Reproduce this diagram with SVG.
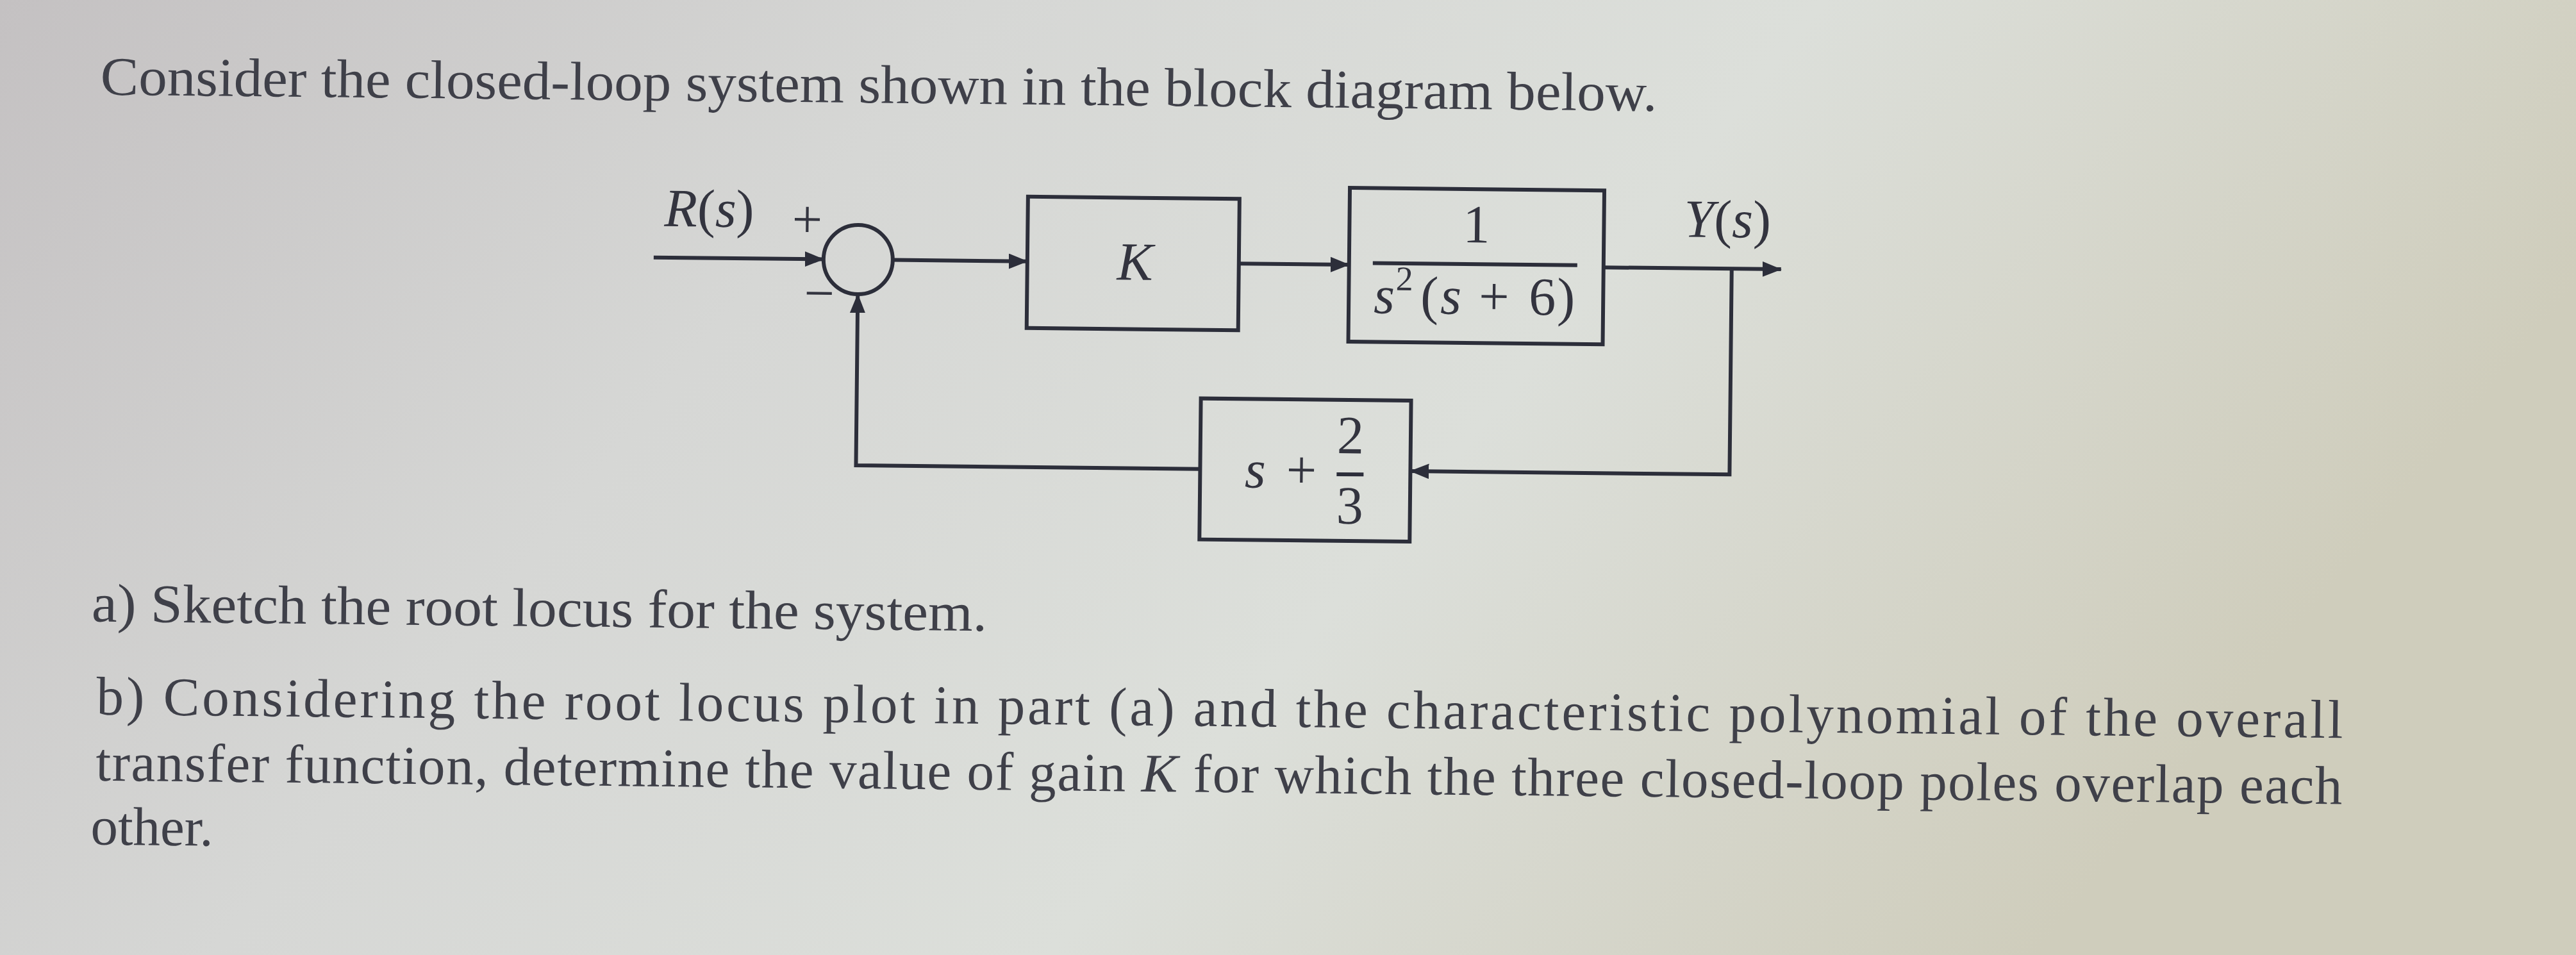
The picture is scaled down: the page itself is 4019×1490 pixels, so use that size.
<svg xmlns="http://www.w3.org/2000/svg" width="4019" height="1490" viewBox="0 0 4019 1490">
  <defs>
    <linearGradient id="bg" x1="0" y1="0" x2="1" y2="0.3">
      <stop offset="0" stop-color="#c4c1c2"/>
      <stop offset="0.35" stop-color="#d6d7d5"/>
      <stop offset="0.65" stop-color="#dcdfda"/>
      <stop offset="1" stop-color="#cfcdbc"/>
    </linearGradient>
    <marker id="ah" markerWidth="30" markerHeight="24" refX="29" refY="12" orient="auto" markerUnits="userSpaceOnUse">
      <path d="M0,0 L30,12 L0,24 z" fill="#2c2e3a"/>
    </marker>
    <style>
      .blk { fill: none; stroke: #2c2e3a; stroke-width: 6; }
      .wire { fill: none; stroke: #2c2e3a; stroke-width: 6; }
      .math { font-family: "Liberation Serif", "DejaVu Serif", serif; font-size: 84px; fill: #33343f; }
      .it { font-style: italic; }
      .prose { font-family: "Liberation Serif", "DejaVu Serif", serif; font-size: 85px; fill: #3f4049; }
    </style>
  </defs>
  <rect x="0" y="0" width="4019" height="1490" fill="url(#bg)"/>
  <g transform="rotate(0.6)">
    <text class="prose" x="158" y="146" textLength="2429" lengthAdjust="spacingAndGlyphs">Consider the closed-loop system shown in the block diagram below.</text>

    <g id="connectors">
      <path class="wire" d="M1024,391 H1289" marker-end="url(#ah)"/>
      <path class="wire" d="M1397,391 H1607" marker-end="url(#ah)"/>
      <path class="wire" d="M1937,391 H2109" marker-end="url(#ah)"/>
      <path class="wire" d="M2506,391 H2783" marker-end="url(#ah)"/>
      <path class="wire" d="M2706,391 V712 H2208" marker-end="url(#ah)"/>
      <path class="wire" d="M1880,712 H1343 V445" marker-end="url(#ah)"/>
    </g>

    <g id="labels">
      <text class="math" x="1040" y="342"><tspan class="it">R</tspan>(<tspan class="it">s</tspan>)</text>
      <text class="math" x="2631" y="342"><tspan class="it">Y</tspan>(<tspan class="it">s</tspan>)</text>
    </g>

    <g id="node-sum">
      <circle class="blk" cx="1343" cy="391" r="54"/>
      <text class="math" x="1263" y="357" text-anchor="middle" font-size="88">+</text>
      <text class="math" x="1283" y="472" text-anchor="middle" font-size="88">−</text>
    </g>

    <g id="node-K">
      <rect class="blk" x="1607" y="290" width="330" height="205"/>
      <text class="math it" x="1775" y="418" text-anchor="middle">K</text>
    </g>

    <g id="node-G">
      <rect class="blk" x="2109" y="271" width="397" height="240"/>
      <text class="math" x="2307" y="354" text-anchor="middle">1</text>
      <line class="wire" x1="2146" y1="388" x2="2465" y2="388"/>
      <text class="math" y="466"><tspan class="it" x="2148">s</tspan><tspan font-size="54" x="2182" y="430">2</tspan><tspan x="2221" y="466">(</tspan><tspan class="it" x="2252">s</tspan><tspan x="2312">+</tspan><tspan x="2390">6</tspan><tspan x="2434">)</tspan></text>
    </g>

    <g id="node-H">
      <rect class="blk" x="1880" y="602" width="328" height="220"/>
      <text class="math it" x="1966" y="740" text-anchor="middle">s</text>
      <text class="math" x="2038" y="740" text-anchor="middle">+</text>
      <text class="math" x="2114" y="685" text-anchor="middle">2</text>
      <line class="wire" x1="2093" y1="718" x2="2135" y2="718"/>
      <text class="math" x="2114" y="795" text-anchor="middle">3</text>
    </g>

    <text class="prose" x="153" y="968" textLength="1397" lengthAdjust="spacingAndGlyphs">a) Sketch the root locus for the system.</text>
    <text class="prose" x="162" y="1113" textLength="3505" lengthAdjust="spacing">b) Considering the root locus plot in part (a) and the characteristic polynomial of the overall</text>
    <text class="prose" x="162" y="1216" textLength="3505" lengthAdjust="spacing">transfer function, determine the value of gain <tspan class="it">K</tspan> for which the three closed-loop poles overlap each</text>
    <text class="prose" x="155" y="1316">other.</text>
  </g>
</svg>
